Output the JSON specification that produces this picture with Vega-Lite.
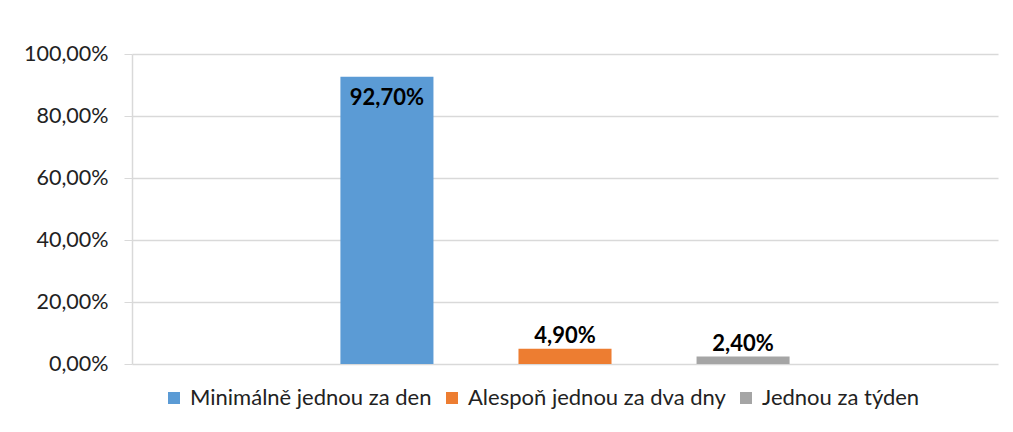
{
  "$schema": "https://vega.github.io/schema/vega-lite/v6.json",
  "width": 866,
  "height": 310,
  "autosize": {"type": "none"},
  "padding": {"left": 132, "top": 54, "right": 15, "bottom": 68},
  "background": "white",
  "config": {
    "locale": {"number": {"decimal": ",", "thousands": " ", "grouping": [3], "currency": ["", " Kč"]}},
    "font": "Lato",
    "view": {"stroke": null}
  },
  "data": {"values": [
    {"kategorie": "Minimálně jednou za den", "podil": 0.927},
    {"kategorie": "Alespoň jednou za dva dny", "podil": 0.049},
    {"kategorie": "Jednou za týden", "podil": 0.024}
  ]},
  "encoding": {
    "x": {"datum": "vse", "type": "nominal", "axis": null,
      "scale": {"paddingInner": 0, "paddingOuter": 0.464}},
    "xOffset": {"field": "kategorie", "type": "nominal", "sort": null,
      "scale": {"paddingInner": 0.4775, "paddingOuter": 0}},
    "y": {"field": "podil", "type": "quantitative",
      "scale": {"domain": [0, 1]},
      "axis": {"title": null, "format": ".2%", "values": [0, 0.2, 0.4, 0.6, 0.8, 1],
        "labelFont": "Lato", "labelFontSize": 21.5, "labelColor": "#222", "labelPadding": 16,
        "tickSize": 8, "tickColor": "#d9d9d9", "domainColor": "#d9d9d9", "domainWidth": 1.5,
        "gridColor": "#d9d9d9", "gridWidth": 1.5}}
  },
  "layer": [
    {"mark": {"type": "bar"},
     "encoding": {
       "color": {"field": "kategorie", "type": "nominal", "sort": null,
         "scale": {"domain": ["Minimálně jednou za den", "Alespoň jednou za dva dny", "Jednou za týden"],
                   "range": ["#5b9bd5", "#ed7d31", "#a5a5a5"]},
         "legend": {"title": null, "orient": "none", "direction": "horizontal",
           "legendX": 31, "legendY": 333, "padding": 0,
           "symbolType": "square", "symbolSize": 144, "symbolStrokeWidth": 0,
           "labelFont": "Lato", "labelFontSize": 22, "labelColor": "#222",
           "labelOffset": 5, "columnPadding": 9, "labelLimit": 400}}
     }},
    {"transform": [{"filter": "datum.podil > 0.5"}],
     "mark": {"type": "text", "baseline": "top", "dy": 11, "fontWeight": "bold", "fontSize": 22, "font": "Lato", "color": "#000"},
     "encoding": {"text": {"field": "podil", "type": "quantitative", "format": ".2%"}}},
    {"transform": [{"filter": "datum.podil <= 0.5"}],
     "mark": {"type": "text", "baseline": "bottom", "dy": -1, "fontWeight": "bold", "fontSize": 22, "font": "Lato", "color": "#000"},
     "encoding": {"text": {"field": "podil", "type": "quantitative", "format": ".2%"}}}
  ]
}
